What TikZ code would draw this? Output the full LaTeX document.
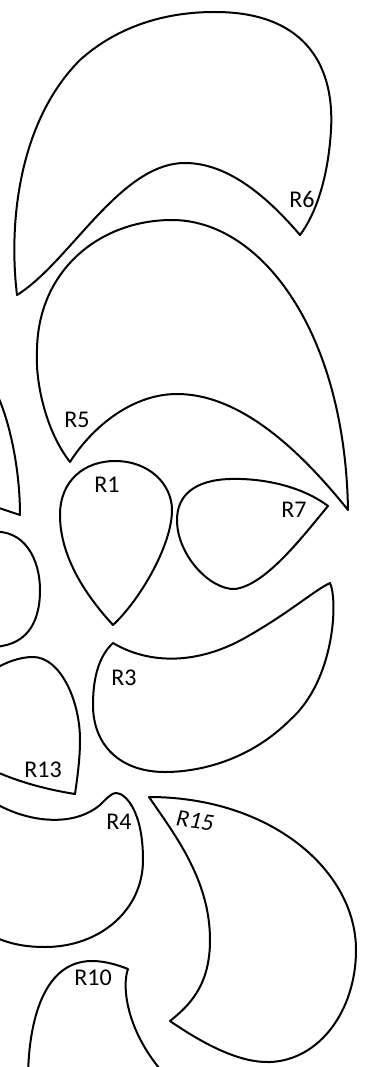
\documentclass[tikz,border=0pt]{standalone}
\usepackage{fontspec}
\setmainfont{Carlito}
\usetikzlibrary{positioning}

\tikzset{
  region/.style={draw, line width=2pt, line join=round},
  lbl/.style={inner sep=0pt, font=\fontsize{24}{28}\selectfont}
}

\begin{document}
\begin{tikzpicture}[x=1pt, y=-1pt]
\useasboundingbox (0,0) rectangle (366,1067);
\clip (0,0) rectangle (366,1067);

% R6
\draw[region] (17,295) .. controls (8,220) and (20,120) .. (80,60)
  .. controls (130,15) and (190,12) .. (215,12)
  .. controls (300,12) and (335,60) .. (331,130)
  .. controls (328,180) and (315,215) .. (300,235)
  .. controls (270,200) and (230,163) .. (185,163)
  .. controls (120,163) and (70,262) .. (17,295) -- cycle;

% R5
\draw[region] (70,462) .. controls (45,430) and (35,380) .. (37,350)
  .. controls (38,270) and (100,220) .. (172,220)
  .. controls (260,220) and (345,330) .. (348,510)
  .. controls (300,450) and (240,394) .. (177,394)
  .. controls (130,394) and (90,430) .. (70,462) -- cycle;

% R1
\draw[region] (113,625) .. controls (90,600) and (60,560) .. (60,515)
  .. controls (60,480) and (85,461) .. (115,461)
  .. controls (150,461) and (172,485) .. (172,510)
  .. controls (172,545) and (140,600) .. (113,625) -- cycle;

% R7
\draw[region] (328,506) .. controls (300,485) and (260,478) .. (230,479)
  .. controls (195,480) and (177,495) .. (177,520)
  .. controls (177,555) and (210,590) .. (235,589)
  .. controls (265,585) and (300,540) .. (328,506) -- cycle;

% R3
\draw[region] (113,643) .. controls (150,665) and (200,665) .. (250,635)
  .. controls (290,612) and (315,590) .. (330,583)
  .. controls (338,600) and (335,680) .. (290,720)
  .. controls (250,760) and (200,772) .. (165,772)
  .. controls (120,772) and (93,745) .. (93,705)
  .. controls (93,675) and (100,655) .. (113,643) -- cycle;

% R13
\draw[region] (-10,672) .. controls (5,662) and (20,657) .. (33,657)
  .. controls (60,657) and (80,700) .. (80,740)
  .. controls (80,760) and (77,780) .. (75,794)
  .. controls (50,790) and (20,783) .. (-10,769) -- cycle;

% left pieces
\draw[region] (-5,390) .. controls (10,420) and (20,470) .. (20,515) -- (-10,505) -- cycle;
\draw[region] (-10,532) .. controls (25,528) and (40,560) .. (40,590)
  .. controls (40,625) and (25,647) .. (-10,647) -- cycle;

% R4
\draw[region] (-10,800) .. controls (20,820) and (70,830) .. (100,805)
  .. controls (108,797) and (112,793) .. (116,793)
  .. controls (125,793) and (143,810) .. (143,860)
  .. controls (143,910) and (100,947) .. (45,947)
  .. controls (20,947) and (5,942) .. (-10,935) -- cycle;

% R15
\draw[region] (149,797) .. controls (175,835) and (210,880) .. (210,940)
  .. controls (210,985) and (190,1005) .. (170,1021)
  .. controls (205,1045) and (240,1063) .. (270,1062)
  .. controls (320,1060) and (356,1010) .. (356,950)
  .. controls (356,870) and (270,797) .. (149,797) -- cycle;

% R10
\draw[region] (28,1080) .. controls (28,1030) and (40,961) .. (92,961)
  .. controls (105,961) and (118,965) .. (128,969)
  .. controls (122,985) and (125,1030) .. (165,1075) -- cycle;

% labels
\node[lbl] (lR6) at (302,199) {R6};
\node[lbl] (lR5) at (77,420) {R5};
\node[lbl] (lR1) at (107,485) {R1};
\node[lbl] (lR7) at (294,510) {R7};
\node[lbl] (lR3) at (124,678) {R3};
\node[lbl] (lR13) at (43,770) {R13};
\node[lbl] (lR4) at (119,822) {R4};
\node[lbl, rotate=-8] (lR15) at (195,821) {\itshape R15};
\node[lbl] (lR10) at (93,978) {R10};
\end{tikzpicture}
\end{document}
